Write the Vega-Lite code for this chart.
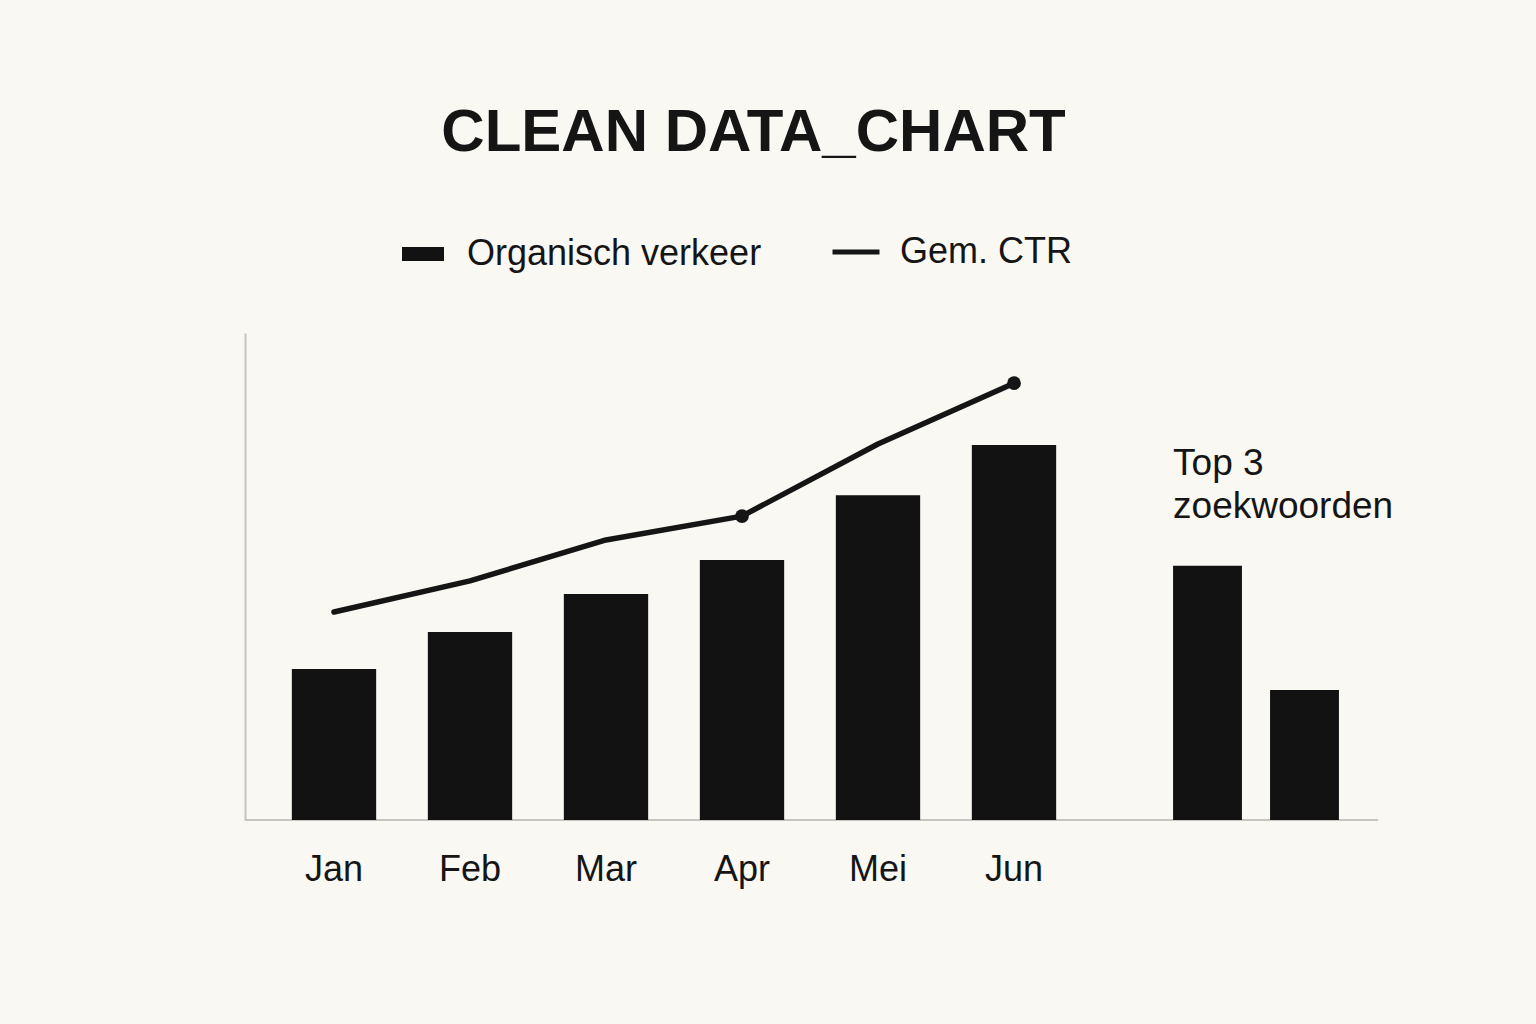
{
  "$schema": "https://vega.github.io/schema/vega-lite/v6.json",
  "autosize": {"type": "none"},
  "padding": {"left": 245, "top": 333, "right": 158, "bottom": 204},
  "width": 1133,
  "height": 487,
  "background": "#f9f8f3",
  "config": {
    "view": {"stroke": null},
    "font": "Liberation Sans"
  },
  "title": {
    "text": "CLEAN DATA_CHART",
    "anchor": "middle",
    "dx": -58,
    "offset": 62,
    "fontSize": 60,
    "font": "Liberation Sans",
    "fontWeight": "bold",
    "color": "#151515"
  },
  "datasets": {
    "maanden": [
      {"maand": "Jan", "verkeer": 31.0, "ctr": 42.7},
      {"maand": "Feb", "verkeer": 38.6, "ctr": 49.1},
      {"maand": "Mar", "verkeer": 46.4, "ctr": 57.5},
      {"maand": "Apr", "verkeer": 53.4, "ctr": 62.4},
      {"maand": "Mei", "verkeer": 66.7, "ctr": 77.2},
      {"maand": "Jun", "verkeer": 77.0, "ctr": 89.7}
    ],
    "zoekwoorden": [
      {"zoekwoord": "Top 1", "volume": 52.2},
      {"zoekwoord": "Top 2", "volume": 26.7}
    ],
    "annotatie": [
      {"zoekwoord": "Top 1", "label": "Top 3\nzoekwoorden", "hoogte": 70.8}
    ]
  },
  "layer": [
    {
      "data": {"values": [{}]},
      "mark": {"type": "rule", "color": "#c6c5c1", "strokeWidth": 2},
      "encoding": {
        "y": {
          "datum": 0,
          "type": "quantitative",
          "scale": {"domain": [0, 100], "nice": false},
          "axis": {"domain": true, "domainColor": "#c6c5c1", "domainWidth": 2, "labels": false, "ticks": false, "grid": false, "title": null}
        }
      }
    },
    {
      "data": {"name": "maanden"},
      "encoding": {
        "x": {
          "field": "maand",
          "type": "nominal",
          "sort": null,
          "scale": {"domain": ["Jan", "Feb", "Mar", "Apr", "Mei", "Jun"], "range": [21, 837], "paddingInner": 0.38, "paddingOuter": 0.19},
          "axis": {"domain": false, "ticks": false, "tickSize": 0, "grid": false, "title": null, "labelAngle": 0, "labelFontSize": 36, "labelFont": "Liberation Sans", "labelColor": "#151515", "labelPadding": 32}
        }
      },
      "layer": [
        {
          "mark": {"type": "bar"},
          "encoding": {
            "y": {"field": "verkeer", "type": "quantitative"},
            "fill": {
              "datum": "Organisch verkeer",
              "scale": {"range": ["#121212"]},
              "legend": {
                "orient": "none", "legendX": 157, "legendY": -100, "direction": "horizontal",
                "title": null, "symbolType": "M-1,-0.33H1V0.33H-1Z", "symbolSize": 1764,
                "symbolStrokeWidth": 0, "labelFontSize": 36, "labelFont": "Liberation Sans",
                "labelColor": "#151515", "labelOffset": 23, "labelLimit": 600, "padding": 0
              }
            }
          }
        },
        {
          "mark": {"type": "line", "strokeWidth": 5.5, "strokeJoin": "round", "strokeCap": "round"},
          "encoding": {
            "y": {"field": "ctr", "type": "quantitative"},
            "stroke": {
              "datum": "Gem. CTR",
              "scale": {"range": ["#151515"]},
              "legend": {
                "orient": "none", "legendX": 585, "legendY": -107, "direction": "horizontal",
                "title": null, "symbolType": "stroke", "symbolSize": 2209, "symbolStrokeWidth": 5,
                "labelFontSize": 36, "labelFont": "Liberation Sans", "labelColor": "#151515",
                "labelOffset": 18, "labelLimit": 600, "padding": 0
              }
            }
          }
        },
        {
          "transform": [{"filter": "datum.maand === 'Apr' || datum.maand === 'Jun'"}],
          "mark": {"type": "point", "filled": true, "size": 190, "color": "#151515", "opacity": 1},
          "encoding": {
            "y": {"field": "ctr", "type": "quantitative"}
          }
        }
      ]
    },
    {
      "layer": [
        {
          "data": {"name": "zoekwoorden"},
          "mark": {"type": "bar", "color": "#121212"},
          "encoding": {
            "x": {
              "field": "zoekwoord",
              "type": "nominal",
              "sort": null,
              "scale": {"domain": ["Top 1", "Top 2"], "range": [914, 1108], "paddingInner": 0.29, "paddingOuter": 0.145},
              "axis": null
            },
            "y": {"field": "volume", "type": "quantitative"}
          }
        },
        {
          "data": {"name": "annotatie"},
          "mark": {"type": "text", "align": "left", "baseline": "alphabetic", "fontSize": 37, "font": "Liberation Sans", "lineBreak": "\n", "lineHeight": 43, "color": "#151515"},
          "encoding": {
            "x": {"field": "zoekwoord", "type": "nominal", "bandPosition": 0, "axis": null},
            "y": {"field": "hoogte", "type": "quantitative"},
            "text": {"field": "label"}
          }
        }
      ]
    }
  ],
  "resolve": {"scale": {"x": "independent"}, "axis": {"x": "independent"}}
}
